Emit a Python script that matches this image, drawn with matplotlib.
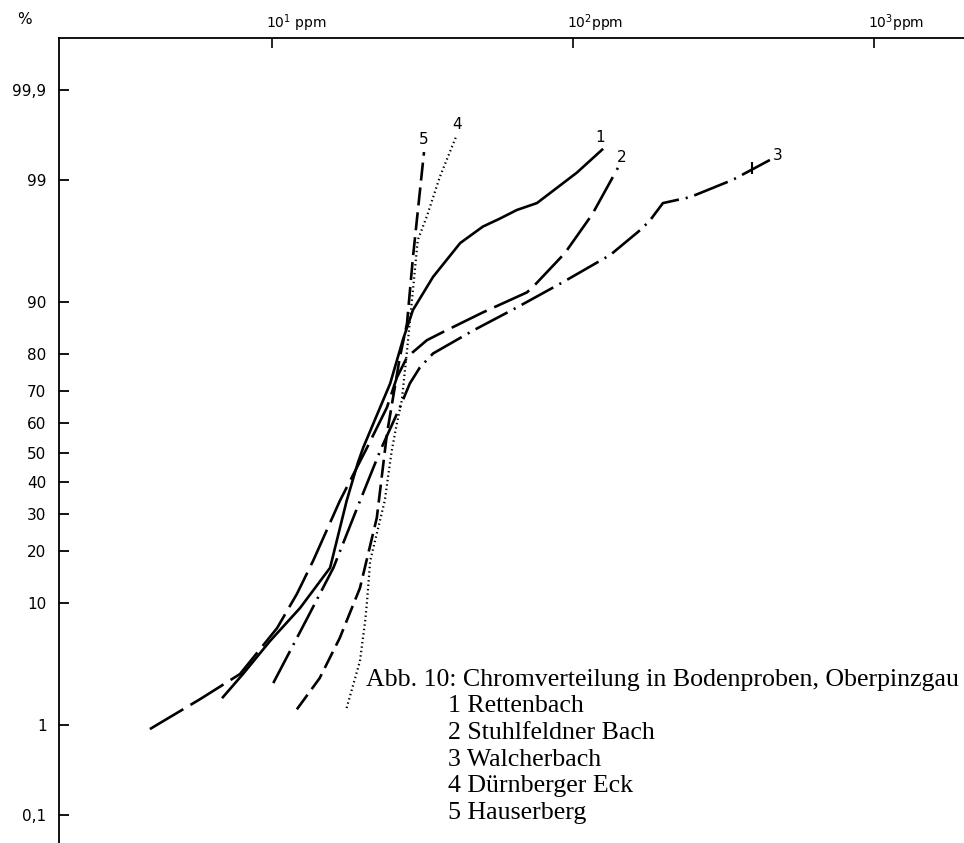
import math
import numpy as np
import matplotlib
matplotlib.use("Agg")
import matplotlib.pyplot as plt
from matplotlib.ticker import NullLocator
from matplotlib.transforms import ScaledTranslation

plt.rcParams["lines.scale_dashes"] = False
plt.rcParams["font.family"] = "DejaVu Sans"

# 1 Rettenbach (solid)
c1_ppm = [6.87, 8.01, 9.85, 12.4, 15.6, 17.7, 19.3, 20.1, 24.7, 27.2, 29.4, 34.3, 42.2, 50.2, 57.2, 65.1, 75.9, 103, 125]
c1_pct = [1.85, 2.95, 5.4, 9.26, 16.3, 34.0, 46.6, 51.7, 72.2, 83.1, 88.8, 93.3, 96.3, 97.3, 97.7, 98.07, 98.33, 99.15, 99.51]

# 2 Stuhlfeldner Bach (long dash)
c2_ppm = [3.93, 5.76, 7.83, 10.4, 12.1, 13.7, 16.8, 20.7, 24.1, 26.0, 28.1, 32.7, 37.0, 50.2, 70.3, 73.6, 94.0, 116, 141]
c2_pct = [0.92, 1.77, 2.95, 6.73, 11.4, 17.8, 34.0, 51.7, 65.0, 73.9, 79.2, 83.1, 84.8, 88.4, 91.4, 92.1, 95.55, 97.9, 99.24]

# 3 Walcherbach (dash-dot)
c3_ppm = [10.1, 13.1, 16.0, 19.2, 22.9, 26.6, 28.7, 31.0, 34.3, 46.6, 65.1, 92.7, 133, 167, 180, 199, 245, 340, 451]
c3_pct = [2.47, 7.9, 16.3, 31.9, 50.7, 65.0, 72.2, 76.6, 80.1, 85.1, 89.2, 92.7, 95.4, 97.1, 97.6, 98.33, 98.53, 99.0, 99.37]
c3_mark = (394, 99.24)

# 4 Duernberger Eck (dotted)
c4_ppm = [17.7, 19.6, 20.4, 20.7, 21.2, 23.7, 25.0, 26.0, 27.0, 28.1, 29.4, 30.5, 32.7, 36.1, 40.8]
c4_pct = [1.47, 3.77, 7.55, 10.3, 17.8, 34.1, 50.7, 59.8, 67.2, 80.8, 91.7, 96.5, 97.8, 99.06, 99.64]

# 5 Hauserberg (dashed)
c5_ppm = [12.1, 14.4, 16.8, 17.7, 19.6, 22.3, 24.1, 26.6, 28.1, 29.4, 32.0]
c5_pct = [1.43, 2.72, 5.7, 7.55, 12.4, 28.9, 56.4, 79.2, 86.5, 95.2, 99.48]

curve_labels = ["1", "2", "3", "4", "5"]
label_ppm = [123, 145.5, 480, 41.2, 31.8]
label_pct = [99.64, 99.40, 99.44, 99.74, 99.62]

y_ticks = [0.1, 1, 10, 20, 30, 40, 50, 60, 70, 80, 90, 99, 99.9]
y_ticklabels = ["0,1", "1", "10", "20", "30", "40", "50", "60", "70", "80", "90", "99", "99,9"]
x_ticks = [10, 100, 1000]
x_ticklabels = [r"$10^1$ ppm", r"$10^2$ppm", r"$10^3$ppm"]

caption = "Abb. 10: Chromverteilung in Bodenproben, Oberpinzgau"
legend_lines = ["1 Rettenbach", "2 Stuhlfeldner Bach", "3 Walcherbach",
                "4 Dürnberger Eck", "5 Hauserberg"]

# probability (normal) scale
zgrid = np.linspace(-5, 5, 20001)
pgrid = 50 * (1 + np.array([math.erf(z / math.sqrt(2)) for z in zgrid]))


def fwd(p):
    return np.interp(p, pgrid, zgrid)


def inv(z):
    return np.interp(z, zgrid, pgrid)


fig = plt.figure(figsize=(9.64, 8.43), dpi=100)
ax = fig.add_axes([59 / 964, 0, 1 - 59 / 964, 1 - 38 / 843])
ax.set_xscale("log")
ax.set_yscale("function", functions=(fwd, inv))
ax.set_xlim(1.961, 1991)
ax.set_ylim(0.0436, 99.9796)

lw = 1.9
ax.plot(c1_ppm, c1_pct, color="black", lw=lw, ls="-")
ax.plot(c2_ppm, c2_pct, color="black", lw=lw, ls=(0, (28, 6)))
ax.plot(c3_ppm, c3_pct, color="black", lw=lw, ls=(0, (26, 5, 1.5, 5)))
ax.plot(c3_mark[0], c3_mark[1], marker="|", ms=9, mew=1.5, color="black")
ax.plot(c4_ppm, c4_pct, color="black", lw=1.6, ls=(0, (1, 2.2)))
ax.plot(c5_ppm, c5_pct, color="black", lw=lw, ls=(0, (13, 5)))

for t, xv, yv in zip(curve_labels, label_ppm, label_pct):
    ax.text(xv, yv, t, fontsize=11, ha="center", va="center")

ax.spines["right"].set_visible(False)
ax.spines["bottom"].set_visible(False)
ax.spines["left"].set_linewidth(1.3)
ax.spines["top"].set_linewidth(1.3)

ax.set_yticks(y_ticks, labels=y_ticklabels)
ax.yaxis.set_minor_locator(NullLocator())
ax.tick_params(axis="y", direction="in", length=7, width=1.3, pad=9, labelsize=11)

ax.xaxis.tick_top()
ax.set_xticks(x_ticks, labels=x_ticklabels)
ax.xaxis.set_minor_locator(NullLocator())
ax.tick_params(axis="x", direction="in", length=7, width=1.2, pad=3, labelsize=10)
shift = ScaledTranslation(-6 / 100, 0, fig.dpi_scale_trans)
for lbl in ax.get_xticklabels():
    lbl.set_horizontalalignment("left")
    lbl.set_transform(lbl.get_transform() + shift)

fig.text(24 / 964, 1 - 20 / 843, "%", fontsize=11, ha="center", va="center")

fig.text(366 / 964, 1 - 686 / 843, caption, family="Liberation Serif",
         fontsize=18.6, va="baseline")
for i, line in enumerate(legend_lines):
    fig.text(448 / 964, 1 - (686 + 26.5 * (i + 1)) / 843, line,
             family="Liberation Serif", fontsize=18.6, va="baseline")

fig.savefig("out.png", dpi=100)
